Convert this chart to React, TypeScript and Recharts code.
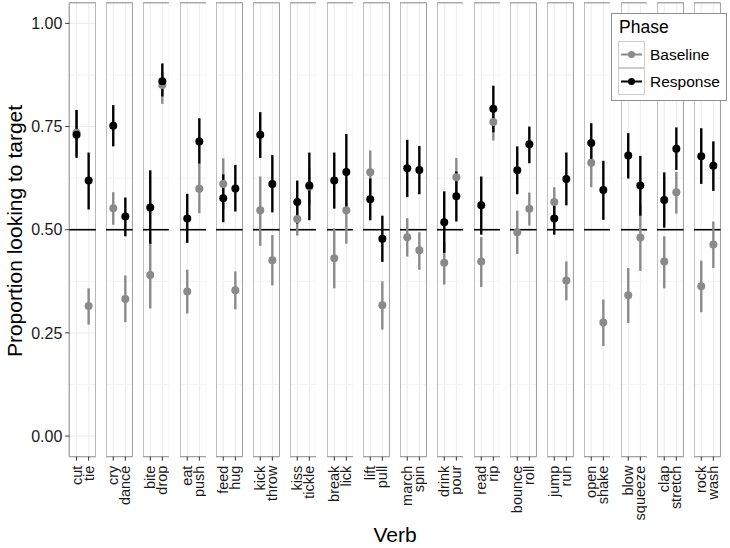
import React from 'react';
import {
  ComposedChart,
  Scatter,
  ErrorBar,
  XAxis,
  YAxis,
  CartesianGrid,
  ReferenceLine,
} from 'recharts';

// verb pairs, one facet each
const verbPairs = [
  ['cut', 'tie'],
  ['cry', 'dance'],
  ['bite', 'drop'],
  ['eat', 'push'],
  ['feed', 'hug'],
  ['kick', 'throw'],
  ['kiss', 'tickle'],
  ['break', 'lick'],
  ['lift', 'pull'],
  ['march', 'spin'],
  ['drink', 'pour'],
  ['read', 'rip'],
  ['bounce', 'roll'],
  ['jump', 'run'],
  ['open', 'shake'],
  ['blow', 'squeeze'],
  ['clap', 'stretch'],
  ['rock', 'wash'],
];

// values in the same order as verbPairs, flattened
const baselineMean = [
  0.735, 0.315, 0.552, 0.332, 0.39, 0.851, 0.35, 0.599, 0.611, 0.353, 0.547, 0.426,
  0.526, 0.605, 0.431, 0.547, 0.639, 0.317, 0.482, 0.45, 0.42, 0.627, 0.423, 0.761,
  0.494, 0.551, 0.567, 0.377, 0.662, 0.275, 0.341, 0.481, 0.423, 0.591, 0.363, 0.464,
];
const baselineLow = [
  0.68, 0.27, 0.512, 0.276, 0.309, 0.805, 0.297, 0.54, 0.55, 0.307, 0.461, 0.365,
  0.486, 0.56, 0.358, 0.466, 0.585, 0.258, 0.435, 0.403, 0.367, 0.58, 0.361, 0.716,
  0.441, 0.51, 0.53, 0.329, 0.603, 0.218, 0.274, 0.4, 0.358, 0.539, 0.3, 0.407,
];
const baselineHigh = [
  0.79, 0.358, 0.591, 0.389, 0.47, 0.883, 0.403, 0.66, 0.673, 0.399, 0.629, 0.487,
  0.566, 0.65, 0.503, 0.62, 0.692, 0.375, 0.528, 0.494, 0.47, 0.674, 0.482, 0.8,
  0.546, 0.59, 0.603, 0.423, 0.71, 0.331, 0.407, 0.56, 0.484, 0.64, 0.425, 0.52,
];
const responseMean = [
  0.73, 0.619, 0.752, 0.532, 0.554, 0.86, 0.527, 0.714, 0.576, 0.6, 0.73, 0.611,
  0.567, 0.607, 0.619, 0.64, 0.574, 0.478, 0.649, 0.645, 0.518, 0.581, 0.559, 0.793,
  0.644, 0.707, 0.527, 0.623, 0.71, 0.596, 0.68, 0.607, 0.572, 0.696, 0.678, 0.655,
];
const responseLow = [
  0.674, 0.549, 0.702, 0.484, 0.466, 0.823, 0.468, 0.66, 0.518, 0.544, 0.674, 0.542,
  0.515, 0.523, 0.551, 0.549, 0.523, 0.422, 0.579, 0.586, 0.444, 0.52, 0.488, 0.736,
  0.586, 0.661, 0.488, 0.559, 0.66, 0.524, 0.624, 0.534, 0.505, 0.645, 0.611, 0.594,
];
const responseHigh = [
  0.79, 0.687, 0.802, 0.578, 0.644, 0.903, 0.587, 0.77, 0.634, 0.657, 0.785, 0.681,
  0.619, 0.687, 0.687, 0.732, 0.624, 0.534, 0.718, 0.703, 0.593, 0.641, 0.629, 0.849,
  0.702, 0.75, 0.565, 0.687, 0.758, 0.667, 0.734, 0.679, 0.639, 0.748, 0.746, 0.714,
];

const yTicks = [0, 0.25, 0.5, 0.75, 1];
const yMinor = [0.125, 0.375, 0.625, 0.875];
const X_DOMAIN = [0.4, 2.6];
const Y_DOMAIN = [-0.05, 1.05];

const GREY = '#8a8a8a';
const BORDER = '#a3a3a3';
const FONT = '"Liberation Sans", Arial, Helvetica, sans-serif';

const PANEL_LEFT = 69.3;
const PANEL_STEP = 36.75;
const PANEL_W = 26.6;
const Y_AXIS_W = 69.3;
const CHART_H = 548;
const PLOT_TOP = 2.7;
const PLOT_BOTTOM = 456.7;

function panelData(p: number) {
  return [0, 1].map((j) => {
    const k = p * 2 + j;
    return {
      idx: j + 1,
      verb: verbPairs[p][j],
      base: baselineMean[k],
      baseErr: [baselineMean[k] - baselineLow[k], baselineHigh[k] - baselineMean[k]],
      resp: responseMean[k],
      respErr: [responseMean[k] - responseLow[k], responseHigh[k] - responseMean[k]],
    };
  });
}

const VerbTick = (props: any) => {
  const { x, y, payload, labels } = props;
  return (
    <text
      x={x}
      y={y}
      dy="0.35em"
      transform={`rotate(-90, ${x}, ${y})`}
      textAnchor="end"
      fontSize={14.5}
      fontFamily={FONT}
      fill="#1a1a1a"
    >
      {labels[payload.value - 1]}
    </text>
  );
};

const dot = (color: string) => (props: any) =>
  <circle cx={props.cx} cy={props.cy} r={4} fill={color} />;

function Panel({ p }: { p: number }) {
  const first = p === 0;
  const yw = first ? Y_AXIS_W : 0;
  const left = first ? 0 : PANEL_LEFT + p * PANEL_STEP;
  const data = panelData(p);
  return (
    <div style={{ position: 'absolute', left, top: 0 }}>
      <ComposedChart
        width={yw + PANEL_W}
        height={CHART_H}
        data={data}
        margin={{ top: PLOT_TOP, right: 0, bottom: 0, left: 0 }}
      >
        <CartesianGrid stroke="#ebebeb" strokeWidth={1} />
        {yMinor.map((v) => (
          <ReferenceLine key={v} y={v} stroke="#f4f4f4" strokeWidth={1} />
        ))}
        <XAxis
          type="number"
          dataKey="idx"
          domain={X_DOMAIN}
          ticks={[1, 2]}
          interval={0}
          height={CHART_H - PLOT_BOTTOM}
          axisLine={false}
          tickLine={{ stroke: '#333', strokeWidth: 1 }}
          tickSize={4}
          tickMargin={5}
          tick={(t: any) => <VerbTick {...t} labels={verbPairs[p]} />}
        />
        <YAxis
          type="number"
          domain={Y_DOMAIN}
          ticks={yTicks}
          width={yw}
          axisLine={false}
          tick={first ? { fontSize: 16, fill: '#1a1a1a', fontFamily: FONT } : false}
          tickLine={first ? { stroke: '#333', strokeWidth: 1 } : false}
          tickSize={4}
          tickMargin={3}
          tickFormatter={(v: number) => v.toFixed(2)}
        />
        {/* panel border */}
        {X_DOMAIN.map((v) => (
          <ReferenceLine key={'bx' + v} x={v} stroke={BORDER} strokeWidth={1.3} ifOverflow="visible" />
        ))}
        {Y_DOMAIN.map((v) => (
          <ReferenceLine key={'by' + v} y={v} stroke={BORDER} strokeWidth={1.3} ifOverflow="visible" />
        ))}
        <ReferenceLine y={0.5} stroke="#000" strokeWidth={1.6} />
        <Scatter dataKey="base" name="Baseline" isAnimationActive={false} shape={dot(GREY)}>
          <ErrorBar dataKey="baseErr" direction="y" width={0} stroke={GREY} strokeWidth={2.4} />
        </Scatter>
        <Scatter dataKey="resp" name="Response" isAnimationActive={false} shape={dot('#000')}>
          <ErrorBar dataKey="respErr" direction="y" width={0} stroke="#000" strokeWidth={2.4} />
        </Scatter>
      </ComposedChart>
    </div>
  );
}

function LegendKey({ color }: { color: string }) {
  return (
    <svg width={27} height={27} style={{ display: 'block' }}>
      <rect x={0.5} y={0.5} width={26} height={26} fill="#fff" stroke="#cccccc" />
      <line x1={3} x2={24} y1={13.5} y2={13.5} stroke={color} strokeWidth={2} />
      <circle cx={13.5} cy={13.5} r={3.5} fill={color} />
    </svg>
  );
}

export default function App() {
  return (
    <div
      style={{
        position: 'absolute',
        left: 0,
        top: 0,
        width: 730,
        height: 548,
        background: '#fff',
        fontFamily: FONT,
      }}
    >
      {verbPairs.map((_, p) => (
        <Panel key={p} p={p} />
      ))}
      <div
        style={{
          position: 'absolute',
          left: 15,
          top: 231,
          transform: 'translate(-50%, -50%) rotate(-90deg)',
          whiteSpace: 'nowrap',
          fontSize: 21,
          color: '#000',
        }}
      >
        Proportion looking to target
      </div>
      <div
        style={{
          position: 'absolute',
          left: 395,
          top: 535,
          transform: 'translate(-50%, -50%)',
          fontSize: 21,
          color: '#000',
        }}
      >
        Verb
      </div>
      <div
        style={{
          position: 'absolute',
          left: 611,
          top: 13,
          width: 114,
          height: 86,
          border: '1.2px solid #8f8f8f',
          background: '#fff',
        }}
      >
        <div style={{ position: 'absolute', left: 7, top: 3, fontSize: 17.5 }}>Phase</div>
        {[
          ['Baseline', GREY],
          ['Response', '#000'],
        ].map(([label, color], i) => (
          <div
            key={label}
            style={{
              position: 'absolute',
              left: 6,
              top: 27 + i * 27,
              display: 'flex',
              alignItems: 'center',
            }}
          >
            <LegendKey color={color} />
            <span style={{ marginLeft: 5, fontSize: 15.5 }}>{label}</span>
          </div>
        ))}
      </div>
    </div>
  );
}
